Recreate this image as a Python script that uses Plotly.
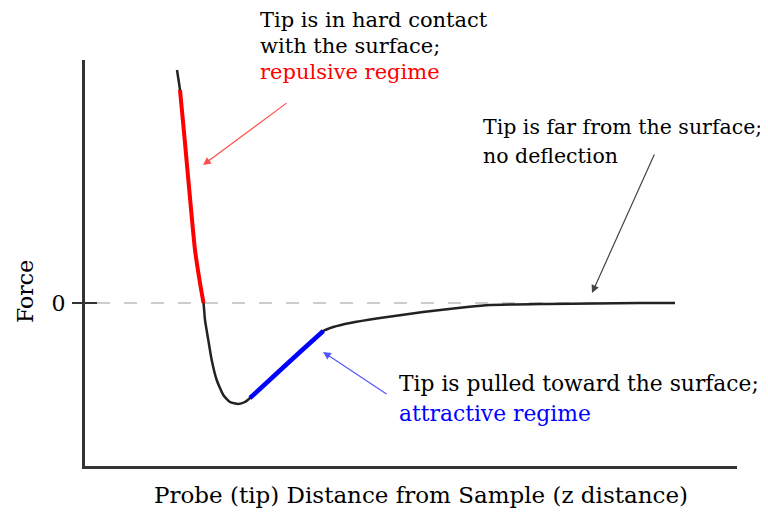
import plotly.graph_objects as go

# Curve (arbitrary units)
distance = [0.92, 0.95, 1.00, 1.05, 1.10, 1.15, 1.185, 1.20, 1.233, 1.267, 1.317, 1.383,
            1.45, 1.533, 1.60, 1.65, 1.90, 2.15, 2.383, 2.483, 2.65, 2.95, 3.38, 3.82,
            4.05, 4.62, 5.55, 5.90]
force = [2.33, 2.13, 1.60, 1.05, 0.53, 0.20, 0.00, -0.17, -0.37, -0.57, -0.77, -0.92,
         -0.99, -1.01, -0.99, -0.95, -0.72, -0.49, -0.28, -0.24, -0.20, -0.15, -0.09, -0.04,
         -0.02, -0.01, 0.00, 0.00]
repulsive_idx = list(range(1, 7))
attractive_idx = list(range(15, 19))

x_title = "Probe (tip) Distance from Sample (z distance)"
y_title = "Force"
tick_vals = [0]
tick_text = ["0"]

OFF = 8  # page body margin
W, H = 768 - OFF, 517 - OFF
L, R, T, B = 85 - OFF, 31, 60 - OFF, 51
PW, PH = W - L - R, H - T - B
FONT = "DejaVu Serif"


def px(xs):
    return (xs - OFF - L) / PW


def py(ys):
    return (H - B - (ys - OFF)) / PH


fig = go.Figure()
fig.add_trace(go.Scatter(x=distance, y=force, mode="lines",
                         line=dict(color="#222222", width=2.5, shape="spline", smoothing=0.5),
                         hoverinfo="skip", showlegend=False))
fig.add_trace(go.Scatter(x=[distance[i] for i in repulsive_idx], y=[force[i] for i in repulsive_idx],
                         mode="lines", line=dict(color="#ff0000", width=4, shape="spline", smoothing=0.5),
                         hoverinfo="skip", showlegend=False))
fig.add_trace(go.Scatter(x=[distance[i] for i in attractive_idx], y=[force[i] for i in attractive_idx],
                         mode="lines", line=dict(color="#0000ff", width=4.5, shape="spline", smoothing=0.5),
                         hoverinfo="skip", showlegend=False))

# zero dashed reference
fig.add_shape(type="line", xref="x", yref="y", x0=0.12, x1=distance[-1], y0=0, y1=0,
              line=dict(color="#cccccc", width=2, dash="13px,14px"), layer="below")
# tick crossing the axis
fig.add_shape(type="line", xref="paper", yref="y", x0=px(75), x1=px(97), y0=0, y1=0,
              line=dict(color="#333333", width=2))

annotations = []
# arrows
annotations.append(dict(x=1.18, y=1.38, xref="x", yref="y", ax=85, ay=-63, text="",
                        showarrow=True, arrowhead=2, arrowsize=1.3, arrowwidth=1.2, arrowcolor="#ff4d4d"))
annotations.append(dict(x=5.07, y=0.10, xref="x", yref="y", ax=63, ay=-140, text="",
                        showarrow=True, arrowhead=2, arrowsize=1.3, arrowwidth=1.2, arrowcolor="#444444"))
annotations.append(dict(x=2.38, y=-0.49, xref="x", yref="y", ax=65, ay=43, text="",
                        showarrow=True, arrowhead=2, arrowsize=1.3, arrowwidth=1.2, arrowcolor="#5555ff"))

lines = [
    ("Tip is in hard contact", 258, 20, "#000000", 21),
    ("with the surface;", 258, 46, "#000000", 21),
    ("repulsive regime", 258, 72, "#ff0000", 21),
    ("Tip is far from the surface;", 481, 127, "#000000", 20.5),
    ("no deflection", 481, 156, "#000000", 20.5),
    ("Tip is pulled toward the surface;", 397, 383, "#000000", 21.8),
    ("attractive regime", 397, 413, "#0000ff", 21.8),
]
for txt, xl, yc, col, fs in lines:
    annotations.append(dict(x=px(xl), y=py(yc), xref="paper", yref="paper", text=txt,
                            showarrow=False, xanchor="left", yanchor="middle",
                            font=dict(family=FONT, size=fs, color=col)))

# axis titles (placed as in the reference)
annotations.append(dict(x=px(25), y=py(292), xref="paper", yref="paper", text=y_title,
                        showarrow=False, textangle=-90, xanchor="center", yanchor="middle",
                        font=dict(family=FONT, size=22, color="#000")))
annotations.append(dict(x=px(421), y=py(495), xref="paper", yref="paper", text=x_title,
                        showarrow=False, xanchor="center", yanchor="middle",
                        font=dict(family=FONT, size=23, color="#000")))

fig.update_layout(
    width=W, height=H,
    margin=dict(l=L, r=R, t=T, b=B, pad=0),
    paper_bgcolor="white", plot_bgcolor="white",
    annotations=annotations,
    xaxis=dict(range=[0, PW / 100], showgrid=False, zeroline=False, showticklabels=False,
               ticks="", showline=True, linecolor="#333333", linewidth=3,
               fixedrange=True),
    yaxis=dict(range=[-(H - B - (303 - OFF)) / 100, ((303 - OFF) - T) / 100],
               showgrid=False, zeroline=False, tickvals=tick_vals, ticktext=tick_text,
               ticks="outside", ticklen=10, tickwidth=2, tickcolor="#333333",
               tickfont=dict(family=FONT, size=22, color="#000"), ticklabelstandoff=2,
               showline=True, linecolor="#333333", linewidth=3,
               fixedrange=True),
)
fig.write_html("out.html")
